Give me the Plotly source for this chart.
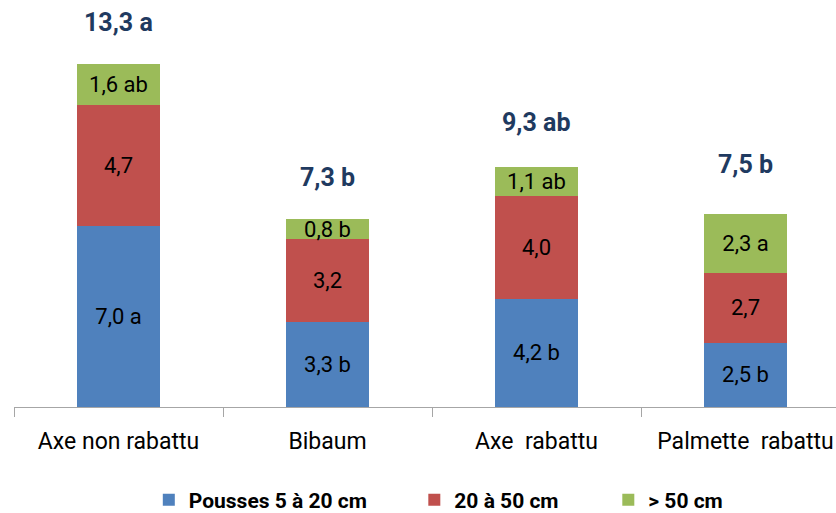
import plotly.graph_objects as go

categories = ["Axe non rabattu", "Bibaum", "Axe\u00a0 rabattu", "Palmette\u00a0 rabattu"]
series_names = ["Pousses 5 à 20 cm", "20 à 50 cm", "> 50 cm"]
pousses_5_20 = [7.0, 3.3, 4.2, 2.5]
pousses_20_50 = [4.7, 3.2, 4.0, 2.7]
pousses_50 = [1.6, 0.8, 1.1, 2.3]
labels_5_20 = ["7,0 a", "3,3 b", "4,2 b", "2,5 b"]
labels_20_50 = ["4,7", "3,2", "4,0", "2,7"]
labels_50 = ["1,6 ab", "0,8 b", "1,1 ab", "2,3 a"]
totals = [13.3, 7.3, 9.3, 7.5]
total_labels = ["13,3 a", "7,3 b", "9,3 ab", "7,5 b"]

colors = ["#4F81BD", "#C0504D", "#9BBB59"]
FONT = "Roboto, Liberation Sans, sans-serif"

legend_ids = ["legend", "legend2", "legend3"]
legend_x = [0.164, 0.487, 0.723]

fig = go.Figure()
for name, vals, labs, col, lid in zip(series_names,
                                      [pousses_5_20, pousses_20_50, pousses_50],
                                      [labels_5_20, labels_20_50, labels_50],
                                      colors, legend_ids):
    fig.add_trace(go.Bar(
        x=categories, y=vals, name=name, text=labs,
        textposition="inside", insidetextanchor="middle", constraintext="none",
        textfont=dict(family=FONT, size=22, color="#000000"),
        marker=dict(color=col, line=dict(width=0)),
        width=0.395, hoverinfo="skip", legend=lid,
    ))

total_shifts = [25, 25, 28, 33]
for c, t, lab, s in zip(categories, totals, total_labels, total_shifts):
    fig.add_annotation(x=c, y=t, text="<b>%s</b>" % lab, showarrow=False,
                       yanchor="bottom", yshift=s,
                       font=dict(family=FONT, size=25, color="#1F3A60"))

leg_common = dict(orientation="h", xanchor="left", y=-0.2285, yanchor="middle",
                  font=dict(family=FONT, size=21, color="#000000", weight="bold"),
                  itemclick=False, bgcolor="rgba(0,0,0,0)")
fig.update_layout(
    barmode="stack",
    width=836, height=513,
    margin=dict(l=14, r=0, t=0, b=106, autoexpand=False),
    paper_bgcolor="white", plot_bgcolor="white",
    showlegend=True,
    legend=dict(x=legend_x[0], **leg_common),
    legend2=dict(x=legend_x[1], **leg_common),
    legend3=dict(x=legend_x[2], **leg_common),
    xaxis=dict(range=[-0.5, 3.433], showgrid=False, showline=True, linecolor="#A6A6A6",
               linewidth=1, ticks="outside", tickson="boundaries", ticklen=9,
               tickcolor="#A6A6A6", ticklabelstandoff=13, automargin=False,
               tickfont=dict(family=FONT, size=23, color="#000000")),
    yaxis=dict(range=[0, 15.78], visible=False, automargin=False),
)

fig.write_html("out.html", config={"displayModeBar": False},
               post_script="document.body.style.margin='0';document.body.style.overflow='hidden';")
